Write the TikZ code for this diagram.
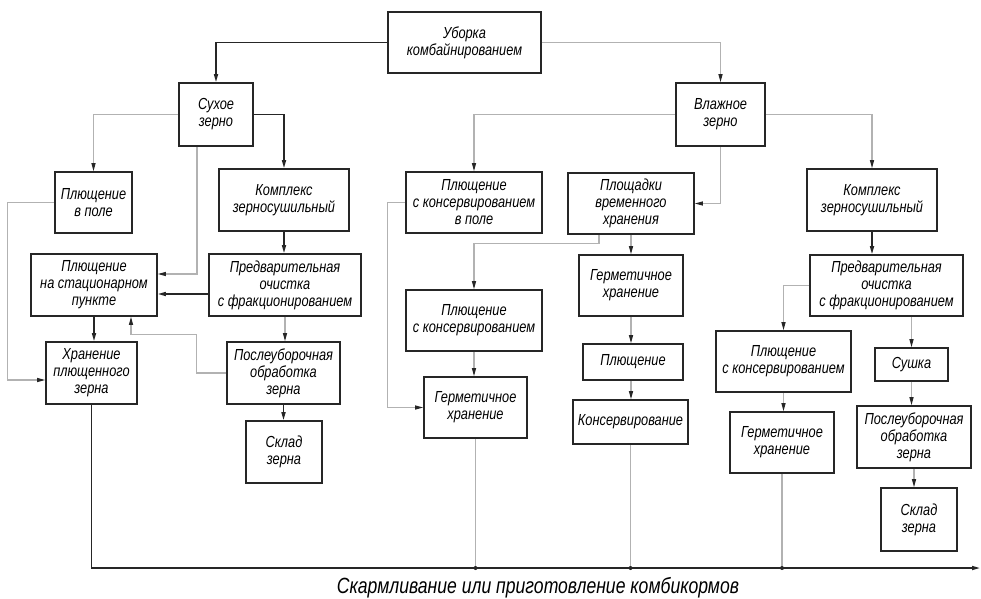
\documentclass[tikz,border=0pt]{standalone}
\usepackage{fontspec}
\setmainfont{Liberation Sans}[FakeStretch=0.8]
\usetikzlibrary{positioning}
\usetikzlibrary{calc}
\usetikzlibrary{arrows.meta}

\begin{document}
\begin{tikzpicture}[
    x=1pt, y=-1pt,
    box/.style={draw=black!85, line width=1.6pt, fill=white, inner sep=0pt, align=center,
        font=\fontsize{16}{17}\selectfont\itshape},
    dk/.style={draw=black!85, line width=1.5pt, -{Triangle[length=8pt,width=4pt]}},
    ln/.style={draw=black!30, line width=1.1pt},
    lt/.style={ln, -{Triangle[length=8pt,width=4pt,color=black!85]}},
    jn/.style={circle, fill=black!85, inner sep=0pt, minimum size=4pt},
  ]

  \useasboundingbox (0,0) rectangle (981,598);

  \node [box, minimum width=153pt, minimum height=61pt] (UB) at (464.5,42.5) {Уборка\\комбайнированием};
  \node [box, minimum width=74pt, minimum height=63pt] (SZ) at (216,114.5) {Сухое\\зерно};
  \node [box, minimum width=89pt, minimum height=63pt] (VZ) at (720.5,114.5) {Влажное\\зерно};

  \node [box, minimum width=77pt, minimum height=61pt] (PP) at (93.5,202.5) {Плющение\\в поле};
  \node [box, minimum width=130pt, minimum height=62pt] (KZ1) at (284,200) {Комплекс\\зерносушильный};
  \node [box, minimum width=126pt, minimum height=62pt] (PS) at (94,285) {Плющение\\на стационарном\\пункте};
  \node [box, minimum width=152pt, minimum height=62pt] (PO1) at (285,285) {Предварительная\\очистка\\с фракционированием};
  \node [box, minimum width=91pt, minimum height=62pt] (HP) at (91.5,373) {Хранение\\плющенного\\зерна};
  \node [box, minimum width=113pt, minimum height=62pt] (PU1) at (283.5,373) {Послеуборочная\\обработка\\зерна};
  \node [box, minimum width=76pt, minimum height=62pt] (SK1) at (284,452) {Склад\\зерна};

  \node [box, minimum width=136pt, minimum height=61pt] (PK) at (474,202.5) {Плющение\\с консервированием\\в поле};
  \node [box, minimum width=126pt, minimum height=61pt] (PV) at (631,203.5) {Площадки\\временного\\хранения};
  \node [box, minimum width=136pt, minimum height=61pt] (PK2) at (474,320.5) {Плющение\\с консервированием};
  \node [box, minimum width=103pt, minimum height=61pt] (GH1) at (475.5,407.5) {Герметичное\\хранение};
  \node [box, minimum width=104pt, minimum height=61pt] (GH2) at (631,285.5) {Герметичное\\хранение};
  \node [box, minimum width=100pt, minimum height=36pt] (PL) at (633,362) {Плющение};
  \node [box, minimum width=115pt, minimum height=44pt] (KO) at (630.5,422) {Консервирование};

  \node [box, minimum width=130pt, minimum height=62pt] (KZ2) at (872,200) {Комплекс\\зерносушильный};
  \node [box, minimum width=153pt, minimum height=61pt] (PO2) at (886.5,285.5) {Предварительная\\очистка\\с фракционированием};
  \node [box, minimum width=135pt, minimum height=61pt] (PK3) at (783.5,361.5) {Плющение\\с консервированием};
  \node [box, minimum width=104pt, minimum height=61pt] (GH3) at (782,442.5) {Герметичное\\хранение};
  \node [box, minimum width=73pt, minimum height=33pt] (SU) at (911.5,364.5) {Сушка};
  \node [box, minimum width=114pt, minimum height=62pt] (PU2) at (914,437) {Послеуборочная\\обработка\\зерна};
  \node [box, minimum width=76pt, minimum height=63pt] (SK2) at (919,519.5) {Склад\\зерна};

  \coordinate (END) at (980,568);
  \node [font=\fontsize{22}{26}\selectfont\itshape] (FEED) at (538,588) {Скармливание или приготовление комбикормов};

  \draw [dk] (UB.west) -| (SZ.north);
  \draw [lt] (UB.east) -| (VZ.north);
  \draw [lt] (SZ.west) -| (PP.north);
  \draw [dk] (SZ.east) -| (KZ1.north);
  \draw [lt] ($(SZ.south)+(-19,0)$) |- ($(PS.east)+(0,-11)$);
  \draw [dk] (KZ1.south) -- (KZ1.south |- PO1.north);
  \draw [dk] ($(PO1.west)+(0,9)$) -- ($(PS.east)+(0,9)$);
  \draw [lt] (PP.west) -- ++(-47,0) |- ($(HP.west)+(0,7)$);
  \draw [dk] (PS.south) -- (PS.south |- HP.north);
  \draw [lt] (PU1.west) -- ++(-30,0) |- ($(PS.south)+(37,18)$) -- ($(PS.south)+(37,0)$);
  \draw [lt] (PO1.south) -- (PO1.south |- PU1.north);
  \draw [dk] (PU1.south) -- (PU1.south |- SK1.north);
  \draw [dk] (HP.south) |- (END);

  \draw [lt] (VZ.west) -| (PK.north);
  \draw [lt] (VZ.south) |- (PV.east);
  \draw [lt] ($(PV.south)+(-32,0)$) -- ++(0,9) -| (PK2.north);
  \draw [lt] (PK2.south) -- (PK2.south |- GH1.north);
  \draw [lt] (PK.west) -- ++(-18,0) |- (GH1.west);
  \draw [lt] (PV.south) -- (GH2.north);
  \draw [lt] (GH2.south) -- (GH2.south |- PL.north);
  \draw [lt] (GH2.south |- PL.south) -- (GH2.south |- KO.north);

  \draw [lt] (VZ.east) -| (KZ2.north);
  \draw [dk] (KZ2.south) -- (KZ2.south |- PO2.north);
  \draw [lt] (PO2.west) -| (PK3.north);
  \draw [lt] (PK3.south) -- (PK3.south |- GH3.north);
  \draw [lt] (SU.north |- PO2.south) -- (SU.north);
  \draw [lt] (SU.south) -- (SU.south |- PU2.north);
  \draw [lt] (PU2.south) -- (PU2.south |- SK2.north);

  \draw [ln] (GH1.south) -- (GH1.south |- END) node [jn] (J1) {};
  \draw [ln] (KO.south) -- (KO.south |- END) node [jn] (J2) {};
  \draw [ln] (GH3.south) -- (GH3.south |- END) node [jn] (J3) {};

\end{tikzpicture}
\end{document}
